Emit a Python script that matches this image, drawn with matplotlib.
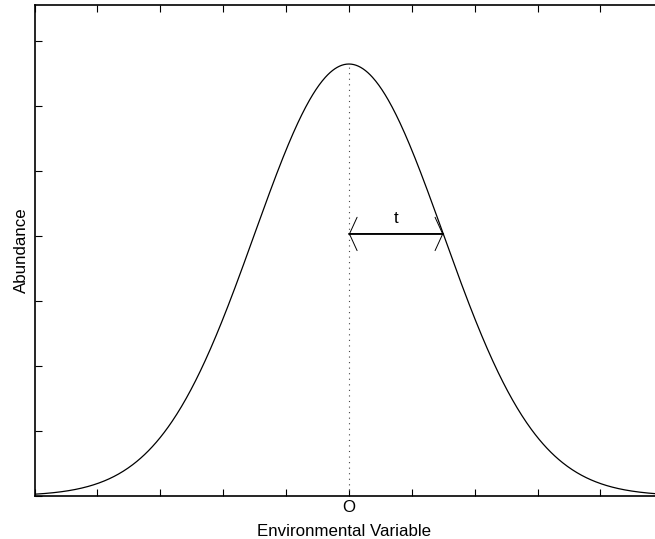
import numpy as np
import matplotlib.pyplot as plt

plt.rcParams['font.family'] = ['Liberation Sans', 'DejaVu Sans']

# Gaussian response model
optimum = 0.0      # O, position of the peak
tolerance = 0.3    # t, half-width of the arrow
x_ticks = [-1.0, -0.8, -0.6, -0.4, -0.2, 0.0, 0.2, 0.4, 0.6, 0.8, 1.0]
x_tick_labels = ['', '', '', '', '', 'O', '', '', '', '', '']
y_ticks = [0.0, 0.2, 0.4, 0.6, 0.8, 1.0, 1.2, 1.4]

x = np.linspace(-1, 1, 801)
peak = 1 / (np.sqrt(2 * np.pi) * tolerance)
y = peak * np.exp(-(x - optimum) ** 2 / (2 * tolerance ** 2))
y_at_t = peak * np.exp(-0.5)

fig = plt.figure(figsize=(6.55, 5.39), dpi=100)
ax = fig.add_axes([0.0527, 0.080, 0.960, 0.911])

ax.plot(x, y, color='black', linewidth=0.9)
ax.plot([optimum, optimum], [0, peak], color='#444444', linewidth=0.8,
        linestyle=(0, (1, 4)))

# arrow: thick shaft, thin open heads
ax.annotate('', xy=(optimum, y_at_t), xytext=(optimum + tolerance, y_at_t),
            arrowprops=dict(arrowstyle='-', color='black', linewidth=1.3,
                            shrinkA=0, shrinkB=0))
ax.annotate('', xy=(optimum, y_at_t), xytext=(optimum + tolerance, y_at_t),
            arrowprops=dict(arrowstyle='<->, head_length=0.55, head_width=1.2',
                            color='black', linewidth=0.7,
                            shrinkA=0, shrinkB=0))
ax.text(optimum + tolerance / 2, y_at_t + 0.025, 't', ha='center', va='bottom',
        fontsize=12.2)

ax.set_xlim(-1, 1)
ax.set_ylim(0, 1.512)
ax.set_xticks(x_ticks)
ax.set_xticklabels(x_tick_labels)
ax.set_yticks(y_ticks)
ax.set_yticklabels([])
ax.tick_params(direction='in', length=5, width=0.8, top=True, right=True,
               labelsize=12.2, pad=3)

for s in ax.spines.values():
    s.set_linewidth(1.2)

ax.set_xlabel('Environmental Variable', fontsize=12.2)
ax.set_ylabel('Abundance', fontsize=12.2)
ax.xaxis.set_label_coords(0.4915, -0.057)
ax.yaxis.set_label_coords(-0.009, 0.50)

fig.savefig('out.png', dpi=100)
